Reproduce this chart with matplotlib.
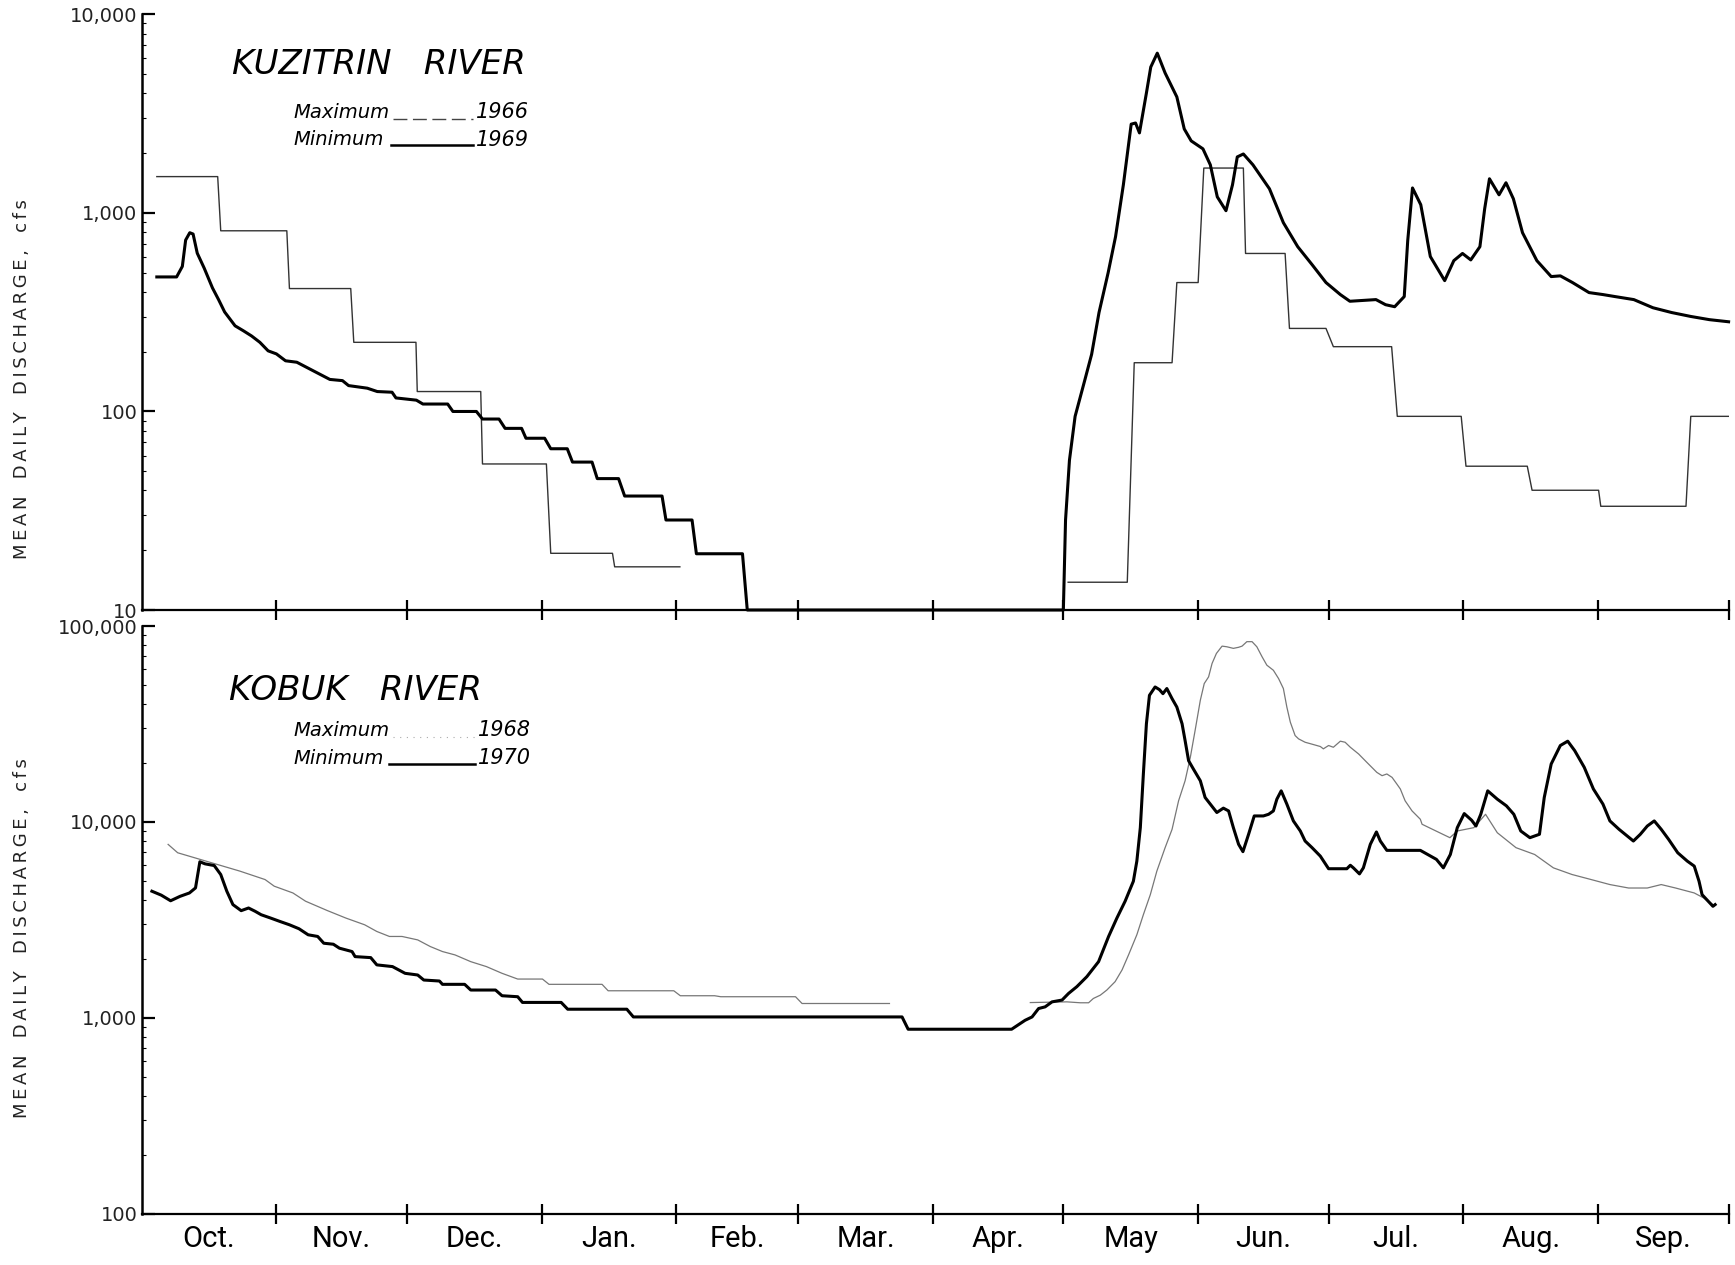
import numpy as np
import matplotlib
matplotlib.use('Agg')
import matplotlib.pyplot as plt
from matplotlib import font_manager
from matplotlib.lines import Line2D
from matplotlib.ticker import FixedLocator, FixedFormatter, NullFormatter, NullLocator, LogLocator

installed = {f.name for f in font_manager.fontManager.ttflist}
NARROW = 'Roboto' if 'Roboto' in installed else 'DejaVu Sans'
plt.rcParams['font.family'] = ['DejaVu Sans']

# water year, Oct 1 = day 0
MONTHS = ['Oct.', 'Nov.', 'Dec.', 'Jan.', 'Feb.', 'Mar.', 'Apr.', 'May', 'Jun.', 'Jul.', 'Aug.', 'Sep.']
MONTH_LEN = [31, 30, 31, 31, 28, 31, 30, 31, 30, 31, 31, 30]

# ---- Kuzitrin River, minimum year 1969 (daily)
kuz_min_day = [3.5, 8.05, 9.37, 10.13, 11.08, 11.84, 12.8, 14.4, 16.3, 17.7, 19.1, 21.5, 23.4, 25.3,
               27.2, 29.1, 31.0, 33.1, 35.7, 38.6, 41.0, 43.3, 46.2, 47.6, 51.9, 54.2, 57.6, 58.5,
               63.2, 64.7, 70.4, 71.6, 77.0, 78.4, 82.2, 83.6, 87.4, 88.4, 92.7, 94.1, 97.9, 99.1,
               103.6, 104.8, 109.7, 111.1, 119.7, 120.6, 126.6, 127.6, 138.2, 139.3, 212.0,
               212.5, 213.4, 214.7, 216.9, 218.5, 220.2, 222.3, 224.0, 225.8, 227.6, 228.6, 229.5,
               231.1, 232.1, 233.6, 235.4, 238.1, 239.8, 241.4, 244.1, 245.8, 247.4, 249.4, 250.9,
               252.0, 253.4, 255.6, 259.4, 262.6, 265.9, 269.2, 272.4, 275.7, 277.9, 283.9, 286.1,
               288.2, 290.4, 291.2, 292.3, 294.2, 296.4, 299.7, 301.8, 303.8, 305.7, 307.8, 308.9,
               310.0, 312.2, 313.8, 315.5, 317.6, 320.9, 324.2, 326.3, 329.1, 332.9, 336.1, 338.9,
               343.2, 347.6, 351.9, 356.3, 360.6, 365.0]
kuz_min_q = [476, 476, 538, 730, 795, 783, 627, 527, 419, 366, 317, 270, 255, 240,
             223, 202, 195, 180, 177, 164, 154, 145, 143, 135, 131, 126, 125, 117,
             114, 109, 109, 100, 100, 91.6, 91.6, 82.2, 82.2, 73.3, 73.3, 64.9, 64.9, 55.6,
             55.6, 45.9, 45.9, 37.5, 37.5, 28.4, 28.4, 19.2, 19.2, 10, 10,
             28.4, 56.8, 94.5, 143, 194, 315, 500, 759, 1386, 2800, 2838, 2530,
             4018, 5430, 6380, 5070, 3840, 2650, 2306, 2103, 1747, 1205, 1026, 1386,
             1915, 1981, 1747, 1323, 893, 676, 549, 446, 388, 359, 366, 345,
             337, 379, 725, 1336, 1100, 603, 456, 575, 625, 580, 676, 1050,
             1486, 1234, 1419, 1178, 795, 575, 478, 482, 446, 397, 388, 379,
             366, 333, 315, 301, 290, 283]

# ---- Kuzitrin River, maximum year 1966 (stepped record)
kuz_max_start = [3.5, 18.2, 34.0, 48.8, 63.4, 78.4, 94.1, 108.8,
                 213.1, 228.3, 238.1, 244.3, 253.9, 264.0, 274.1, 288.8, 304.6, 319.8, 335.6, 356.3]
kuz_max_end = [17.5, 33.4, 48.1, 63.1, 78.0, 93.1, 108.3, 123.8,
               226.7, 237.0, 243.0, 253.4, 263.0, 272.4, 287.5, 303.5, 318.7, 335.1, 355.2, 365.0]
kuz_max_level = [1524, 813, 416, 223, 126, 54.4, 19.3, 16.5,
                 13.8, 176, 446, 1683, 625, 262, 212, 94.5, 53, 40.1, 33.3, 94.5]

# ---- Kobuk River, minimum year 1970
kob_min_day = [2.37, 4.52, 6.67, 8.83, 11.0, 12.4, 13.4, 14.6, 16.7, 18.2, 19.6, 21.0, 22.9, 24.6,
               26.1, 27.5, 29.7, 31.8, 34.0, 36.2, 38.3, 40.5, 41.9, 44.1, 45.5, 48.4, 49.1, 52.7,
               54.1, 57.7, 60.6, 63.5, 64.9, 68.5, 69.2, 74.3, 75.7, 81.4, 82.9, 86.5, 87.6, 96.5,
               98.0, 111.6, 113.1, 174.9, 176.3, 200.1, 201.5,
               203.2, 204.8, 206.3, 207.8, 209.4, 211.7, 213.2, 215.1, 217.4, 220.1, 222.4, 224.3,
               226.2, 228.1, 228.9, 229.7, 230.4, 231.1, 231.8, 233.1, 234.1, 234.9, 235.8, 237.0,
               238.1, 239.3, 240.0, 240.8, 241.9, 243.5, 244.6, 245.8, 247.3, 248.8, 250.0, 251.1,
               252.3, 253.3, 254.6, 255.9, 258.0, 259.2, 260.3, 261.1, 262.1, 263.4, 264.9, 266.5,
               267.6, 269.2, 271.1, 273.0, 277.2, 278.0, 278.7, 280.1, 281.0, 282.6, 284.0, 284.9,
               286.4, 294.1, 297.8, 299.4, 301.0, 302.6, 304.2, 305.9, 306.9, 308.0, 309.6, 311.8,
               313.9, 315.6, 317.2, 319.3, 321.5, 322.6, 324.2, 326.3, 328.0, 329.6, 331.8, 333.9,
               336.1, 337.7, 339.8, 343.1, 344.7, 346.3, 347.9, 349.5, 351.2, 353.3, 355.5, 357.1,
               358.2, 358.9, 360.3, 361.4, 361.9]
kob_min_q = [4430, 4230, 3960, 4170, 4340, 4605, 6260, 6110, 5990, 5390, 4430, 3785, 3525, 3637,
             3500, 3360, 3230, 3106, 2986, 2850, 2655, 2603, 2404, 2376, 2268, 2180, 2054, 2030,
             1864, 1827, 1688, 1655, 1560, 1542, 1483, 1483, 1387, 1387, 1297, 1282, 1199, 1199,
             1107, 1107, 1011, 1011, 875, 875, 917,
             972, 1011, 1116, 1138, 1207, 1233, 1333, 1443, 1623, 1936, 2602, 3228,
             3937, 4980, 6310, 9350, 17570, 31700, 44280, 48850, 47340, 45150, 47960, 42580,
             38570, 31700, 26000, 20540, 18630, 16220, 13330, 12330, 11170, 11760, 11380, 9350,
             7690, 7050, 8650, 10730, 10730, 10940, 11380, 13060, 14410, 12330, 10120, 8990,
             7990, 7390, 6690, 5770, 5770, 6010, 5830, 5430, 5830, 7690, 8890, 7990,
             7160, 7160, 6440, 5830, 6820, 9350, 11030, 10200, 9530, 10940, 14410, 13070,
             12080, 10940, 8990, 8310, 8650, 13330, 19760, 24550, 25830, 23120, 19000, 14730,
             12330, 10120, 9170, 7990, 8650, 9530, 10120, 9170, 8150, 6960, 6310, 5950,
             4980, 4255, 3940, 3710, 3785]

# ---- Kobuk River, maximum year 1968 (nan = no trace)
kob_max_day = [6.1, 8.3, 22.6, 28.4, 30.5, 34.8, 37.7, 42.7, 47.0, 51.3, 54.1, 57.0, 59.9, 63.5,
               66.4, 69.2, 72.1, 75.7, 79.3, 82.9, 86.5, 92.2, 93.7, 105.9, 107.3, 122.4, 123.9,
               131.8, 133.2, 150.4, 151.9, 172.0, np.nan,
               204.4, 212.8, 215.9, 217.8, 218.9, 220.5, 222.0, 223.9, 225.5, 227.0, 228.9, 230.4,
               232.0, 233.5, 235.4, 237.0, 238.5, 240.0, 241.2, 242.3, 243.5, 244.4, 245.4, 246.2,
               247.2, 248.5, 249.6, 251.1, 252.3, 253.1, 254.2, 255.4, 256.5, 257.7, 258.8, 260.3,
               261.5, 262.6, 263.4, 264.2, 265.3, 266.1, 267.6, 269.5, 271.1, 271.8, 273.0, 274.1,
               275.7, 276.8, 278.0, 279.9, 281.8, 284.1, 285.3, 286.4, 287.6, 288.7, 289.5, 290.6,
               292.2, 294.1, 294.5, 297.7, 300.9, 302.6, 306.4, 309.1, 311.8, 316.1, 320.4, 324.7,
               329.0, 333.4, 337.7, 342.0, 346.3, 349.5, 352.8, 357.1, 359.3, 361.4]
kob_max_q = [7680, 6960, 5610, 5080, 4700, 4340, 3940, 3530, 3230, 2986, 2760, 2603, 2603, 2500,
             2312, 2180, 2095, 1936, 1827, 1688, 1578, 1578, 1483, 1483, 1375, 1375, 1297,
             1297, 1282, 1282, 1184, 1184, np.nan,
             1197, 1207, 1194, 1194, 1256, 1306, 1387, 1530, 1757, 2098, 2656, 3362,
             4256, 5610, 7387, 9167, 12820, 16230, 21370, 29300, 41780, 50850, 54980, 64390,
             72440, 78940, 78340, 76890, 77860, 78940, 83180, 83180, 78340, 69660, 63100, 59440,
             53900, 47960, 38570, 32290, 27600, 26540, 25510, 24830, 24260, 23610, 24550, 24050,
             25830, 25510, 24050, 22230, 20140, 17900, 17220, 17570, 16880, 15610, 14730, 12820,
             11380, 10320, 9730, 8990, 8310, 8990, 9350, 10940, 8810, 7390, 6820, 5830,
             5390, 5080, 4790, 4600, 4600, 4790, 4600, 4340, 4090, 3785]

KUZ_YTICKS = [10, 100, 1000, 10000]
KUZ_YLABELS = ['10', '100', '1,000', '10,000']
KOB_YTICKS = [100, 1000, 10000, 100000]
KOB_YLABELS = ['100', '1,000', '10,000', '100,000']

month_edges = np.concatenate([[0], np.cumsum(MONTH_LEN)])
month_mid = (month_edges[:-1] + month_edges[1:]) / 2


def step_path(starts, ends, levels, max_gap=3.0):
    xs, ys = [], []
    for i, (s, e, v) in enumerate(zip(starts, ends, levels)):
        if i > 0 and s - ends[i - 1] > max_gap:
            xs.append(np.nan)
            ys.append(np.nan)
        xs += [s, e]
        ys += [v, v]
    return xs, ys


def setup_axis(ax, ylim, yticks, ylabels, show_months):
    ax.set_yscale('log')
    ax.set_xlim(0, 365)
    ax.set_ylim(*ylim)
    ax.spines[['top', 'right']].set_visible(False)
    ax.spines['left'].set_linewidth(1.8)
    ax.spines['bottom'].set_linewidth(1.6)
    ax.yaxis.set_major_locator(FixedLocator(yticks))
    ax.yaxis.set_major_formatter(FixedFormatter(ylabels))
    ax.yaxis.set_minor_locator(LogLocator(base=10, subs=np.arange(2, 10)))
    ax.yaxis.set_minor_formatter(NullFormatter())
    ax.tick_params(axis='y', which='major', direction='in', length=9, width=1.6,
                   labelsize=14, pad=3, labelcolor='#222222')
    ax.tick_params(axis='y', which='minor', direction='in', length=3, width=0.8)
    ax.xaxis.set_major_locator(FixedLocator(month_edges[1:]))
    ax.xaxis.set_major_formatter(NullFormatter())
    ax.tick_params(axis='x', which='major', direction='inout', length=14, width=1.6)
    if show_months:
        ax.xaxis.set_minor_locator(FixedLocator(month_mid))
        ax.xaxis.set_minor_formatter(FixedFormatter(MONTHS))
        ax.tick_params(axis='x', which='minor', length=0, pad=8, labelsize=21,
                       labelfontfamily=NARROW)
    else:
        ax.xaxis.set_minor_locator(NullLocator())
    ax.set_facecolor('none')


W, H = 1735, 1265
fig = plt.figure(figsize=(W / 100, H / 100), dpi=100)
ax1 = fig.add_axes([141.6 / W, 1 - 610 / H, 1587 / W, 595.6 / H])
ax2 = fig.add_axes([141.6 / W, 1 - 1213.8 / H, 1587 / W, 587.8 / H])

setup_axis(ax1, (10, 10000), KUZ_YTICKS, KUZ_YLABELS, False)
setup_axis(ax2, (100, 100000), KOB_YTICKS, KOB_YLABELS, True)

# Kuzitrin
sx, sy = step_path(kuz_max_start, kuz_max_end, kuz_max_level)
ax1.plot(sx, sy, color='#333333', lw=1.0)
ax1.plot(kuz_min_day, kuz_min_q, color='black', lw=2.2, clip_on=False, solid_joinstyle='round')

# Kobuk
ax2.plot(kob_max_day, kob_max_q, color='#777777', lw=0.9)
ax2.plot(kob_min_day, kob_min_q, color='black', lw=2.2, solid_joinstyle='round')


def px(x, y):
    return x / W, 1 - y / H


# axis titles, river names and keys
ylab = '   '.join('\u2009'.join(w) for w in ['MEAN', 'DAILY', 'DISCHARGE,', 'cfs'])
fig.text(*px(22, 379), ylab, rotation=90, ha='center', va='center', fontsize=13, color='#222222')
fig.text(*px(22, 938), ylab, rotation=90, ha='center', va='center', fontsize=13, color='#222222')

fig.text(*px(232, 65), 'KUZITRIN   RIVER', style='italic', fontsize=24.5, va='center', ha='left')
fig.text(*px(293, 112), 'Maximum', style='italic', fontsize=14, va='center', ha='left')
fig.text(*px(476, 112), '1966', style='italic', fontsize=15, va='center', ha='left')
fig.text(*px(293, 139.5), 'Minimum', style='italic', fontsize=14, va='center', ha='left')
fig.text(*px(476, 139.5), '1969', style='italic', fontsize=15, va='center', ha='left')
fig.add_artist(Line2D([393 / W, 473 / W], [1 - 118.5 / H] * 2, color='#444444', lw=1.0,
                      linestyle=(0, (10, 4))))
fig.add_artist(Line2D([391 / W, 473 / W], [1 - 145 / H] * 2, color='black', lw=1.8))

fig.text(*px(229, 691), 'KOBUK   RIVER', style='italic', fontsize=24.5, va='center', ha='left')
fig.text(*px(293, 730.5), 'Maximum', style='italic', fontsize=14, va='center', ha='left')
fig.text(*px(478, 730.5), '1968', style='italic', fontsize=15, va='center', ha='left')
fig.text(*px(293, 758), 'Minimum', style='italic', fontsize=14, va='center', ha='left')
fig.text(*px(478, 758), '1970', style='italic', fontsize=15, va='center', ha='left')
fig.add_artist(Line2D([393 / W, 475 / W], [1 - 737 / H] * 2, color='#aaaaaa', lw=0.8,
                      linestyle=(0, (1, 5))))
fig.add_artist(Line2D([389 / W, 475 / W], [1 - 764 / H] * 2, color='black', lw=1.8))

fig.savefig('out.png', dpi=100)
